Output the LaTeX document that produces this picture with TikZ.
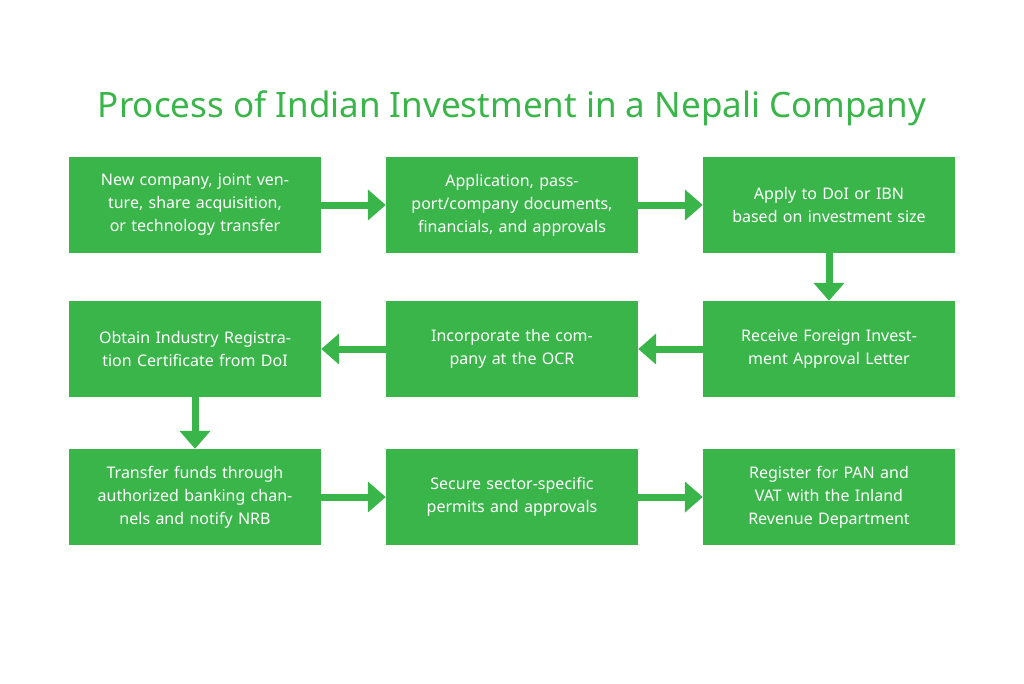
\documentclass[tikz,border=0pt]{standalone}
\usepackage{fontspec}
\setmainfont{Noto Sans}
\usetikzlibrary{arrows.meta}
\definecolor{gr}{HTML}{3AB54A}
\begin{document}
\begin{tikzpicture}[x=1pt,y=-1pt,
  box/.style={fill=gr,draw=none,minimum width=252pt,minimum height=96pt,text width=230pt,align=center,text=white,font=\fontsize{16}{23}\selectfont\bfseries,inner sep=0pt},
  arr/.style={draw=gr,line width=7pt,-{Triangle[width=30pt,length=18pt]},shorten <=0pt}]
\useasboundingbox (0,0) rectangle (1024,683);
\node[text=gr,font=\fontsize{35}{40}\selectfont\bfseries] (title) at (512,108) {Process of Indian Investment in a Nepali Company};
\node[box] (a) at (195,205) {New company, joint venture, share acquisition, or technology transfer};
\node[box] (b) at (512,205) {Application, passport/company documents, financials, and approvals};
\node[box] (c) at (829,205) {Apply to DoI or IBN based on investment size};
\node[box] (d) at (829,349) {Receive Foreign Investment Approval Letter};
\node[box] (e) at (512,349) {Incorporate the company at the OCR};
\node[box] (f) at (195,349) {Obtain Industry Registration Certificate from DoI};
\node[box] (g) at (195,497) {Transfer funds through authorized banking channels and notify NRB};
\node[box] (h) at (512,497) {Secure sector-specific permits and approvals};
\node[box] (i) at (829,497) {Register for PAN and VAT with the Inland Revenue Department};
\draw[arr] (a) -- (b);
\draw[arr] (b) -- (c);
\draw[arr] (c) -- (d);
\draw[arr] (d) -- (e);
\draw[arr] (e) -- (f);
\draw[arr] (f) -- (g);
\draw[arr] (g) -- (h);
\draw[arr] (h) -- (i);
\end{tikzpicture}
\end{document}
